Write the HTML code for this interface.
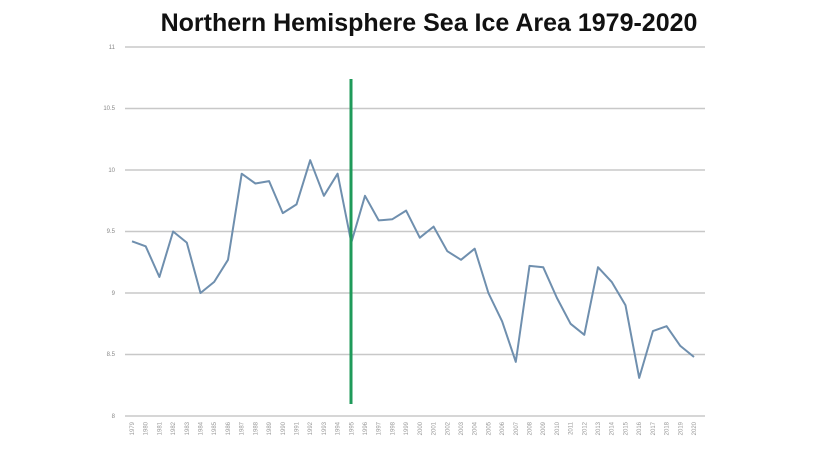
<!DOCTYPE html>
<html><head><style>body{margin:0;background:#fff}svg{display:block}</style></head>
<body>
<svg width="820" height="458" xmlns="http://www.w3.org/2000/svg" font-family="Liberation Sans, sans-serif">
<rect width="820" height="458" fill="#fff"/>
<text x="429" y="31" font-size="25" font-weight="bold" text-anchor="middle" fill="#111">Northern Hemisphere Sea Ice Area 1979-2020</text>
<g stroke="#c8c8c8" stroke-width="1.5">
<line x1="125" x2="705" y1="47" y2="47"/>
<line x1="125" x2="705" y1="108.5" y2="108.5"/>
<line x1="125" x2="705" y1="170" y2="170"/>
<line x1="125" x2="705" y1="231.5" y2="231.5"/>
<line x1="125" x2="705" y1="293" y2="293"/>
<line x1="125" x2="705" y1="354.5" y2="354.5"/>
<line x1="125" x2="705" y1="416" y2="416"/>
</g>
<g font-size="6" fill="#888" text-anchor="end">
<text x="115" y="49">11</text><text x="115" y="110">10.5</text><text x="115" y="172">10</text>
<text x="115" y="233">9.5</text><text x="115" y="295">9</text><text x="115" y="356">8.5</text><text x="115" y="418">8</text>
</g>
<g font-size="6" fill="#999" text-anchor="end">
<text transform="translate(134,422) rotate(-90)">1979</text>
<text transform="translate(147.7,422) rotate(-90)">1980</text>
<text transform="translate(161.4,422) rotate(-90)">1981</text>
<text transform="translate(175.1,422) rotate(-90)">1982</text>
<text transform="translate(188.8,422) rotate(-90)">1983</text>
<text transform="translate(202.5,422) rotate(-90)">1984</text>
<text transform="translate(216.2,422) rotate(-90)">1985</text>
<text transform="translate(230,422) rotate(-90)">1986</text>
<text transform="translate(243.7,422) rotate(-90)">1987</text>
<text transform="translate(257.4,422) rotate(-90)">1988</text>
<text transform="translate(271.1,422) rotate(-90)">1989</text>
<text transform="translate(284.8,422) rotate(-90)">1990</text>
<text transform="translate(298.5,422) rotate(-90)">1991</text>
<text transform="translate(312.2,422) rotate(-90)">1992</text>
<text transform="translate(325.9,422) rotate(-90)">1993</text>
<text transform="translate(339.6,422) rotate(-90)">1994</text>
<text transform="translate(353.3,422) rotate(-90)">1995</text>
<text transform="translate(367,422) rotate(-90)">1996</text>
<text transform="translate(380.7,422) rotate(-90)">1997</text>
<text transform="translate(394.4,422) rotate(-90)">1998</text>
<text transform="translate(408.1,422) rotate(-90)">1999</text>
<text transform="translate(421.8,422) rotate(-90)">2000</text>
<text transform="translate(435.6,422) rotate(-90)">2001</text>
<text transform="translate(449.3,422) rotate(-90)">2002</text>
<text transform="translate(463,422) rotate(-90)">2003</text>
<text transform="translate(476.7,422) rotate(-90)">2004</text>
<text transform="translate(490.4,422) rotate(-90)">2005</text>
<text transform="translate(504.1,422) rotate(-90)">2006</text>
<text transform="translate(517.8,422) rotate(-90)">2007</text>
<text transform="translate(531.5,422) rotate(-90)">2008</text>
<text transform="translate(545.2,422) rotate(-90)">2009</text>
<text transform="translate(558.9,422) rotate(-90)">2010</text>
<text transform="translate(572.6,422) rotate(-90)">2011</text>
<text transform="translate(586.3,422) rotate(-90)">2012</text>
<text transform="translate(600,422) rotate(-90)">2013</text>
<text transform="translate(613.7,422) rotate(-90)">2014</text>
<text transform="translate(627.5,422) rotate(-90)">2015</text>
<text transform="translate(641.2,422) rotate(-90)">2016</text>
<text transform="translate(654.9,422) rotate(-90)">2017</text>
<text transform="translate(668.6,422) rotate(-90)">2018</text>
<text transform="translate(682.3,422) rotate(-90)">2019</text>
<text transform="translate(696,422) rotate(-90)">2020</text>
</g>
<polyline fill="none" stroke="#6f8fae" stroke-width="2" stroke-linejoin="round" points="132,241.3 145.7,246.3 159.4,277 173.1,231.5 186.8,242.6 200.5,293 214.2,281.9 228,259.8 241.7,173.7 255.4,183.5 269.1,181.1 282.8,213.1 296.5,204.4 310.2,160.2 323.9,195.8 337.6,173.7 351.3,242.6 365,195.8 378.7,220.4 392.4,219.2 406.1,210.6 419.8,237.7 433.6,226.6 447.3,251.2 461,259.8 474.7,248.7 488.4,293 502.1,321.3 515.8,361.9 529.5,265.9 543.2,267.2 556.9,297.9 570.6,323.8 584.3,334.8 598,267.2 611.7,281.9 625.5,305.3 639.2,377.9 652.9,331.1 666.6,326.2 680.3,345.9 694,357"/>
<line x1="351" x2="351" y1="79" y2="404" stroke="#1f9a5a" stroke-width="3"/>
</svg>
</body></html>
